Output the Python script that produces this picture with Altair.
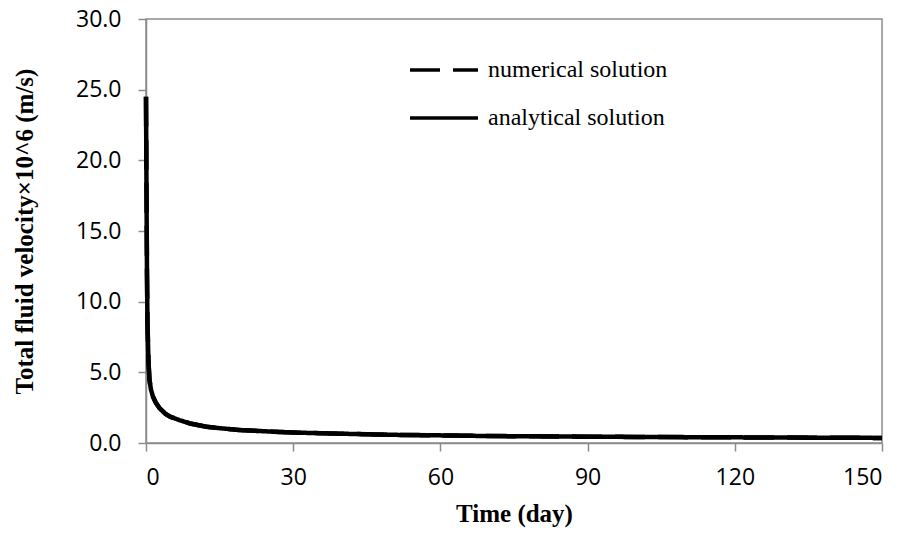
import altair as alt
import pandas as pd

# Time (day) and total fluid velocity x10^6 (m/s)
time_days = [0, 0.1, 0.2, 0.3, 0.5, 0.7, 1.0, 1.4, 2.0, 2.75, 4, 5, 6.8, 9,
             12.3, 15, 19, 25.9, 30, 39.4, 50, 60, 68, 80, 92, 100, 120, 135, 150]
analytical = [24.5, 18, 12, 8.5, 5.8, 4.5, 3.8, 3.3, 2.85, 2.47, 2.05, 1.85, 1.62,
              1.38, 1.15, 1.05, 0.92, 0.8, 0.74, 0.66, 0.58, 0.54, 0.5, 0.47, 0.44,
              0.43, 0.4, 0.38, 0.36]
numerical = [24.5, 18, 12, 8.5, 5.8, 4.5, 3.8, 3.3, 2.85, 2.47, 2.05, 1.85, 1.62,
             1.38, 1.15, 1.05, 0.92, 0.8, 0.74, 0.66, 0.58, 0.54, 0.5, 0.47, 0.44,
             0.43, 0.4, 0.38, 0.36]
series_names = ["numerical solution", "analytical solution"]
x_ticks = [0, 30, 60, 90, 120, 150]
y_ticks = [0, 5, 10, 15, 20, 25, 30]

rows = []
for t, v in zip(time_days, numerical):
    rows.append({"t": t, "v": v, "series": series_names[0]})
for t, v in zip(time_days, analytical):
    rows.append({"t": t, "v": v, "series": series_names[1]})
df = pd.DataFrame(rows)

axis_gray = "#8c8c8c"

chart = alt.Chart(df).mark_line(strokeWidth=4.5, color="black").encode(
    x=alt.X("t:Q", scale=alt.Scale(domain=[0, 150], nice=False),
            axis=alt.Axis(values=x_ticks, title="Time (day)", labelPadding=15,
                          titlePadding=12)),
    y=alt.Y("v:Q", scale=alt.Scale(domain=[0, 30], nice=False),
            axis=alt.Axis(values=y_ticks, format=".1f",
                          title="Total fluid velocity×10^6 (m/s)",
                          labelPadding=17, titlePadding=38)),
    strokeDash=alt.StrokeDash(
        "series:N",
        scale=alt.Scale(domain=series_names, range=[[30, 13], [1, 0]]),
        legend=alt.Legend(title=None, orient="none", legendX=262, legendY=15,
                          symbolType="stroke", symbolSize=4624,
                          symbolStrokeWidth=3.5, symbolStrokeColor="black",
                          labelFont="Liberation Serif", labelFontSize=24,
                          labelColor="black", labelOffset=8, rowPadding=-22,
                          labelLimit=0, padding=0),
    ),
    detail="series:N",
).properties(
    width=736, height=424,
    background="white",
    autosize=alt.AutoSizeParams(type="none"),
    padding={"left": 146, "top": 19, "right": 25, "bottom": 94},
).configure_view(
    stroke=axis_gray, strokeWidth=1.5
).configure_axis(
    grid=False, domainColor=axis_gray, domainWidth=1.5, tickColor=axis_gray,
    tickWidth=1.5, tickSize=8, labelFont="Open Sans", labelFontSize=23,
    labelColor="black", titleFont="Liberation Serif", titleFontSize=25,
    titleFontWeight="bold", titleColor="black"
)

chart.save("out.html", embed_options={"renderer": "svg", "actions": False})
